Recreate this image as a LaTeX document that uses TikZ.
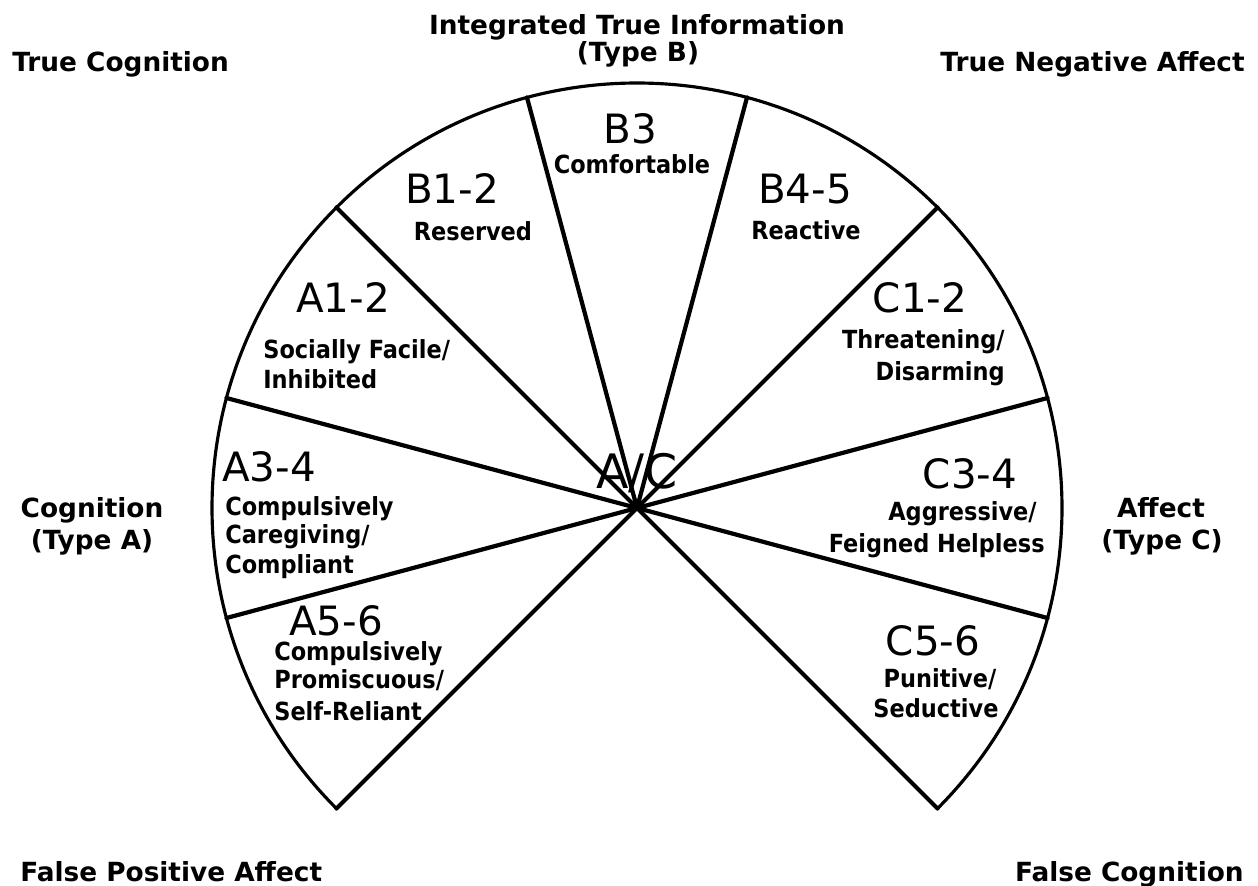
\documentclass[tikz,border=0pt]{standalone}
\usepackage{fontspec}
\newfontfamily\hdfont{DejaVu Sans}
\newfontfamily\cdfont{DejaVu Sans Condensed}
\usetikzlibrary{calc}
\begin{document}
\begin{tikzpicture}[x=0.02cm,y=-0.02cm,
  radial/.style={line width=2.4pt, line cap=round},
  rim/.style={line width=1.8pt},
  head/.style={font=\hdfont\bfseries\fontsize{15}{18}\selectfont, inner sep=0pt},
  big/.style={font=\hdfont\fontsize{23}{26}\selectfont, inner sep=0pt, anchor=base},
  sub/.style={font=\cdfont\bfseries\fontsize{14.2}{17}\selectfont, inner sep=0pt, anchor=base},
]
\useasboundingbox (0,0) rectangle (1258,886);
\coordinate (C) at (637,508);
\foreach \t [count=\i] in {45,15,-15,-45,-75,-105,-135,-165,-195,-225}
  \coordinate (P\i) at ($(C)+(\t:425)$);
\draw[rim] (P1) arc[start angle=45, end angle=-225, radius=425];
\foreach \i in {1,...,10} \draw[radial] (C) -- (P\i);

% outer headings
\node[head, anchor=base west] (tcog) at (12,71) {True Cognition};
\node[head, anchor=base east] (tna) at (1245,71) {True Negative Affect};
\node[head, anchor=base] (iti) at (637,34) {Integrated True Information};
\node[head, anchor=base] (tyb) at (638,61) {(Type B)};
\node[head, anchor=base] (cog) at (92,517) {Cognition};
\node[head, anchor=base] (tya) at (92,549) {(Type A)};
\node[head, anchor=base] (aff) at (1161,517) {Affect};
\node[head, anchor=base] (tyc) at (1162,549) {(Type C)};
\node[head, anchor=base west] (fpa) at (20,881) {False Positive Affect};
\node[head, anchor=base east] (fcog) at (1244,881) {False Cognition};

% wedge labels
\node[big] (b3) at (630,143) {B3};
\node[sub] (b3t) at (632,173) {Comfortable};
\node[big] (b12) at (452,203) {B1-2};
\node[sub] (b12t) at (473,240) {Reserved};
\node[big] (b45) at (805,203) {B4-5};
\node[sub] (b45t) at (806,239) {Reactive};
\node[big] (a12) at (343,312) {A1-2};
\node[sub, anchor=base west] (a12t1) at (263,358) {Socially Facile/};
\node[sub, anchor=base west] (a12t2) at (263,388) {Inhibited};
\node[big, anchor=base west] (a34) at (222,481) {A3-4};
\node[sub, anchor=base west] (a34t1) at (225,515) {Compulsively};
\node[sub, anchor=base west] (a34t2) at (225,543) {Caregiving/};
\node[sub, anchor=base west] (a34t3) at (225,573) {Compliant};
\node[big] (a56) at (336,635) {A5-6};
\node[sub, anchor=base west] (a56t1) at (274,660) {Compulsively};
\node[sub, anchor=base west] (a56t2) at (274,688) {Promiscuous/};
\node[sub, anchor=base west] (a56t3) at (274,720) {Self-Reliant};
\node[big] (c12) at (920,312) {C1-2};
\node[sub, anchor=base east] (c12t1) at (1005,348) {Threatening/};
\node[sub, anchor=base east] (c12t2) at (1005,380) {Disarming};
\node[big] (c34) at (970,488) {C3-4};
\node[sub, anchor=base east] (c34t1) at (1037,520) {Aggressive/};
\node[sub, anchor=base east] (c34t2) at (1045,552) {Feigned Helpless};
\node[big] (c56) at (933,655) {C5-6};
\node[sub] (c56t1) at (940,687) {Punitive/};
\node[sub] (c56t2) at (936,717) {Seductive};
\node[big, font=\hdfont\fontsize{27}{30}\selectfont] (ac) at (637,488) {A/C};
\end{tikzpicture}
\end{document}
